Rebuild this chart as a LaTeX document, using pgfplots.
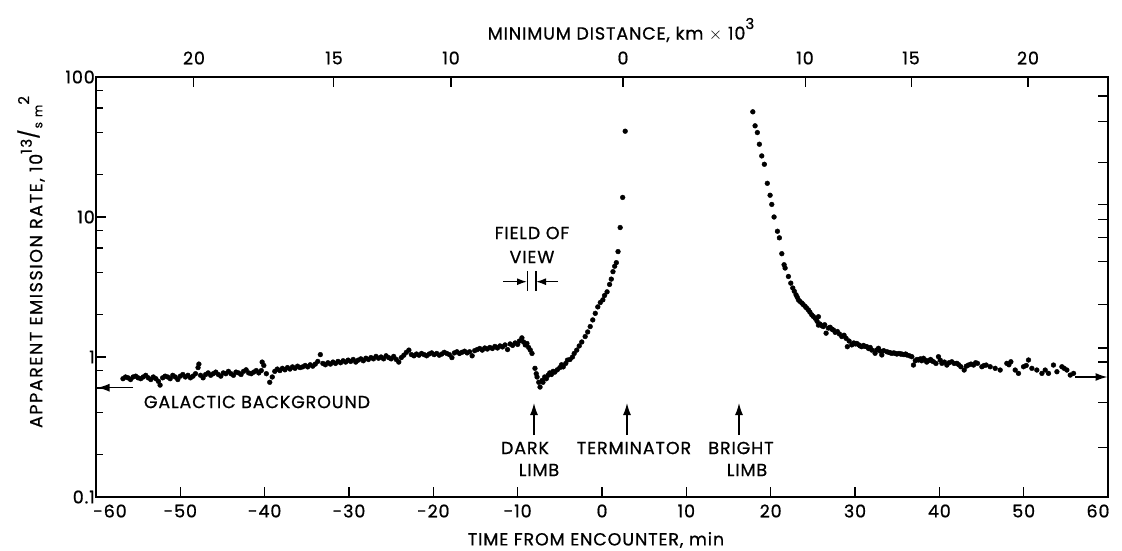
\documentclass[border=0pt]{standalone}
\usepackage{fontspec}
\setmainfont{Poppins}[LetterSpace=5, FakeBold=0.8]
\usepackage{pgfplots}
\pgfplotsset{compat=1.18}
\usetikzlibrary{arrows.meta}

\pgfplotstableread{
x y
-56.8 0.70
-56.5 0.72
-56.2 0.71
-55.9 0.69
-55.6 0.72
-55.3 0.73
-55.0 0.71
-54.7 0.70
-54.4 0.72
-54.1 0.74
-53.8 0.71
-53.5 0.69
-53.2 0.72
-52.9 0.70
-52.6 0.67
-52.4 0.63
-52.1 0.71
-51.8 0.73
-51.5 0.72
-51.2 0.70
-50.9 0.74
-50.6 0.72
-50.3 0.69
-50.0 0.73
-49.7 0.75
-49.4 0.72
-49.1 0.74
-48.8 0.71
-48.5 0.73
-48.2 0.76
-47.9 0.84
-47.8 0.89
-47.6 0.74
-47.3 0.71
-47.0 0.75
-46.7 0.77
-46.4 0.74
-46.1 0.76
-45.8 0.78
-45.5 0.75
-45.2 0.73
-44.9 0.77
-44.6 0.76
-44.3 0.79
-44.0 0.76
-43.7 0.74
-43.4 0.78
-43.1 0.77
-42.8 0.75
-42.5 0.79
-42.2 0.81
-41.9 0.77
-41.6 0.76
-41.3 0.78
-41.0 0.80
-40.7 0.77
-40.4 0.80
-40.3 0.92
-40.1 0.87
-39.8 0.76
-39.4 0.66
-39.1 0.72
-38.8 0.79
-38.5 0.82
-38.2 0.80
-37.9 0.83
-37.6 0.81
-37.3 0.84
-37.0 0.82
-36.7 0.85
-36.4 0.83
-36.1 0.86
-35.8 0.84
-35.5 0.85
-35.2 0.87
-34.9 0.85
-34.6 0.88
-34.3 0.86
-34.0 0.89
-33.7 0.93
-33.4 1.04
-33.1 0.90
-32.8 0.88
-32.5 0.91
-32.2 0.89
-31.9 0.92
-31.6 0.90
-31.3 0.93
-31.0 0.91
-30.7 0.94
-30.4 0.92
-30.1 0.95
-29.8 0.93
-29.5 0.96
-29.2 0.92
-28.9 0.95
-28.6 0.97
-28.3 0.94
-28.0 0.98
-27.7 0.96
-27.4 0.99
-27.1 0.97
-26.8 1.01
-26.5 0.98
-26.2 1.00
-25.9 0.97
-25.6 1.02
-25.3 0.99
-25.0 0.97
-24.7 1.01
-24.4 0.96
-24.1 0.92
-23.8 0.99
-23.5 1.03
-23.2 1.08
-22.9 1.12
-22.6 1.04
-22.3 1.02
-22.0 1.05
-21.7 1.03
-21.4 1.06
-21.1 1.04
-20.8 1.02
-20.5 1.05
-20.2 1.07
-19.9 1.04
-19.6 1.06
-19.3 1.03
-19.0 1.05
-18.7 1.08
-18.4 1.06
-18.1 1.04
-17.8 0.99
-17.5 1.07
-17.2 1.09
-16.9 1.06
-16.6 1.08
-16.3 1.10
-16.0 1.07
-15.7 1.09
-15.4 1.02
-15.1 1.11
-14.8 1.13
-14.5 1.15
-14.2 1.12
-13.9 1.16
-13.6 1.14
-13.3 1.17
-13.0 1.15
-12.7 1.19
-12.4 1.16
-12.1 1.20
-11.8 1.18
-11.5 1.22
-11.2 1.13
-10.9 1.24
-10.6 1.21
-10.3 1.26
-10.0 1.23
-9.8 1.30
-9.5 1.37
-9.3 1.28
-9.1 1.22
-8.9 1.25
-8.7 1.17
-8.5 1.12
-8.3 1.06
-7.95 0.83
-7.8 0.76
-7.7 0.72
-7.5 0.66
-7.35 0.61
-7.1 0.68
-7.0 0.66
-6.8 0.72
-6.6 0.70
-6.4 0.74
-6.2 0.77
-6.0 0.75
-5.8 0.79
-5.6 0.78
-5.3 0.81
-5.0 0.84
-4.8 0.88
-4.6 0.85
-4.3 0.90
-4.1 0.95
-3.8 0.96
-3.5 1.00
-3.3 1.06
-3.0 1.12
-2.7 1.20
-2.4 1.28
-2.0 1.40
-1.7 1.51
-1.4 1.65
-1.1 1.84
-0.8 2.05
-0.5 2.28
-0.2 2.45
0.1 2.56
0.3 2.75
0.6 2.92
0.9 3.30
1.1 3.60
1.3 4.07
1.5 4.45
1.7 4.72
1.9 5.66
2.15 8.41
2.45 13.8
2.75 41.0
}\inbound

\pgfplotstableread{
x y
17.88 56.4
18.15 44.8
18.42 40.1
18.66 33.1
18.94 27.3
19.25 23.8
19.60 17.4
19.93 14.3
20.13 12.3
20.40 10.0
20.80 7.91
21.03 7.10
21.32 5.47
21.59 4.56
21.71 4.32
22.10 3.76
22.38 3.37
22.62 3.11
22.80 2.95
23.01 2.78
23.15 2.67
23.29 2.56
23.45 2.50
23.69 2.43
23.85 2.37
24.08 2.30
24.25 2.24
24.47 2.17
24.65 2.09
24.87 2.00
25.05 1.95
25.27 1.89
25.66 1.94
25.50 1.80
25.66 1.69
25.85 1.72
26.05 1.67
26.25 1.65
26.40 1.70
26.57 1.48
26.84 1.61
27.05 1.63
27.25 1.58
27.44 1.56
27.65 1.50
27.91 1.52
28.15 1.46
28.43 1.40
28.70 1.43
28.94 1.36
29.09 1.185
29.30 1.30
29.62 1.22
29.85 1.26
30.05 1.24
30.21 1.25
30.45 1.22
30.60 1.20
30.80 1.185
31.00 1.21
31.20 1.19
31.40 1.185
31.60 1.15
31.80 1.17
31.99 1.12
32.38 1.063
32.78 1.154
32.55 1.12
33.00 1.10
33.18 1.034
33.40 1.11
33.77 1.09
34.00 1.08
34.20 1.07
34.37 1.063
34.60 1.07
34.80 1.06
34.96 1.05
35.20 1.06
35.40 1.05
35.55 1.05
35.80 1.04
36.00 1.05
36.15 1.034
36.45 1.02
36.74 1.005
36.93 0.876
37.15 0.94
37.35 0.96
37.52 0.952
37.75 0.97
37.90 0.94
38.11 0.979
38.35 0.95
38.50 0.92
38.71 0.941
38.95 0.96
39.10 0.94
39.30 0.925
39.60 0.90
39.89 1.005
40.10 0.95
40.30 0.901
40.60 0.92
40.89 0.876
41.15 0.91
41.48 0.925
41.75 0.90
42.08 0.901
42.30 0.88
42.55 0.852
42.94 0.807
43.20 0.86
43.45 0.876
43.75 0.89
44.05 0.876
44.30 0.91
44.52 0.901
45.04 0.852
45.30 0.87
45.55 0.876
46.03 0.852
46.62 0.830
47.21 0.807
48.00 0.901
48.25 0.88
48.48 0.925
48.99 0.807
49.38 0.764
49.98 0.852
50.30 0.87
50.57 0.952
50.97 0.830
51.56 0.807
52.16 0.764
52.55 0.807
52.94 0.764
53.53 0.876
53.94 0.785
54.53 0.852
54.80 0.83
55.12 0.807
55.52 0.743
55.91 0.764
}\outbound

\newcommand\lfont{\fontsize{17.5}{20}\selectfont}
\begin{document}
\begin{tikzpicture}[x=1pt,y=1pt,font=\lfont]
\useasboundingbox (0,0) rectangle (1122,550);
\begin{axis}[
  at={(96pt,53pt)}, anchor=south west,
  scale only axis, width=1012pt, height=420pt,
  xmin=-60, xmax=60, ymode=log, ymin=0.1, ymax=100,
  xtick={-60,-50,...,60},
  xticklabels={{\kern28pt-60},-50,-40,-30,-20,-10,0,10,20,30,40,50,{60\kern20pt}},
  ytick={0.1,1,10,100}, yticklabels={0.1,1,10,100},
  minor ytick={0.2,0.4,0.6,0.8,2,4,6,8,20,40,60,80},
  xtick pos=bottom, ytick pos=left,
  tick align=inside,
  major tick length=10pt, minor tick length=7pt,
  axis line style={line width=1.4pt},
  tick style={black, line width=1.2pt},
  ticklabel style={font=\lfont},
  xticklabel style={yshift=-4pt},
  yticklabel style={inner sep=1pt},
  clip=false,
]
\addplot[only marks, mark=*, mark size=2.4pt, black] table {\inbound};
\addplot[only marks, mark=*, mark size=2.4pt, black] table {\outbound};
\end{axis}
\begin{axis}[
  at={(96pt,53pt)}, anchor=south west,
  scale only axis, width=1012pt, height=420pt,
  xmin=-60, xmax=60, ymode=log, ymin=0.1, ymax=100,
  xtick={-48.4,-31.8,-17.9,2.49,24.1,36.65,50.5},
  xticklabels={},
  xtick pos=top,
  ytick={0.226,0.476,0.92,1.16,2.36,4.8,7.13,9.6,12.3,24.6,48.4,73.1},
  yticklabels={}, minor ytick={},
  ytick pos=right,
  tick align=inside,
  major tick length=10pt,
  axis line style={line width=1.4pt},
  tick style={black, line width=1.2pt},
]
\end{axis}
% top axis (minimum distance) tick labels
\node at (194,492) {20};
\node at (334,492) {15};
\node at (451,492) {10};
\node at (623,492) {0};
\node at (805,492) {10};
\node at (911,492) {15};
\node at (1028,492) {20};
% annotations
\draw[line width=1.4pt,-{Latex[length=12pt,width=8pt]}] (133,162.3) -- (97.5,162.3);
\node at (257,148) {GALACTIC BACKGROUND};
\draw[line width=1.4pt,-{Latex[length=12pt,width=8pt]}] (1075,173) -- (1107.5,173);
\node at (532,317) {FIELD OF};
\node at (532,293) {VIEW};
\draw[line width=1.4pt,-{Latex[length=10pt,width=7pt]}] (503,268.3) -- (527,268.3);
\draw[line width=1.4pt,-{Latex[length=10pt,width=7pt]}] (558,268.3) -- (536,268.3);
\draw[line width=1.4pt] (527.5,259.5) -- (527.5,279);
\draw[line width=1.4pt] (536,259.5) -- (536,279);
\draw[line width=1.4pt,-{Latex[length=12pt,width=8pt]}] (534,115) -- (534,147);
\draw[line width=1.4pt,-{Latex[length=12pt,width=8pt]}] (627,115) -- (627,147);
\draw[line width=1.4pt,-{Latex[length=12pt,width=8pt]}] (739,115) -- (739,147);
\node at (525,102) {DARK};
\node at (539,80) {LIMB};
\node at (634,102) {TERMINATOR};
\node at (741,102) {BRIGHT};
\node at (747,80) {LIMB};
\node at (596,10) {TIME FROM ENCOUNTER, min};
\node at (621,520) {MINIMUM DISTANCE, km $\times$ 10\raisebox{0.6em}{\fontsize{15}{16}\selectfont 3}};
\node[rotate=90] at (31,288) {\addfontfeature{LetterSpace=9}APPARENT EMISSION RATE, 10\raisebox{0.6em}{\fontsize{15}{16}\selectfont 13}\raisebox{0.35em}{\fontsize{20}{22}\selectfont /}\hspace{1pt}{\fontsize{12}{13}\selectfont s\hspace{5pt}m}\raisebox{0.75em}{\fontsize{15}{16}\selectfont 2}};
\end{tikzpicture}
\end{document}
